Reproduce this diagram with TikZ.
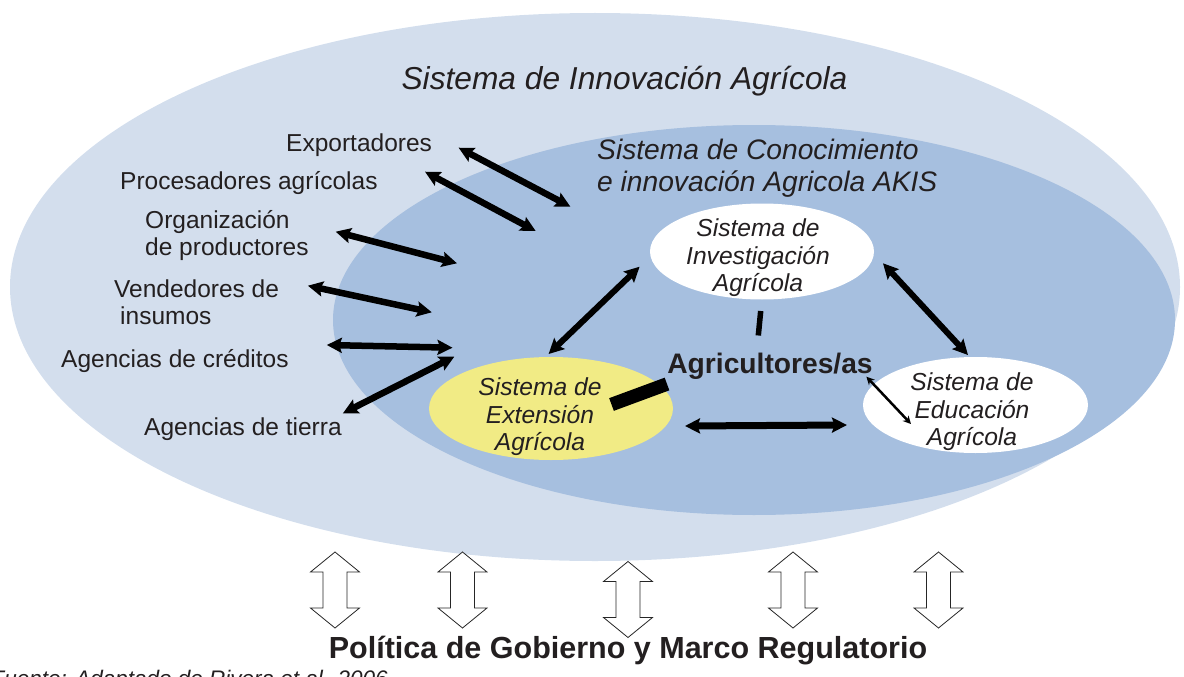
\documentclass[tikz,border=0pt]{standalone}
\usepackage{fontspec}
\setmainfont{Liberation Sans}
\usetikzlibrary{arrows.meta,shapes.geometric}
\definecolor{outerblue}{HTML}{D3DEED}
\definecolor{innerblue}{HTML}{A6BFDF}
\definecolor{extyellow}{HTML}{F1EB85}
\definecolor{txt}{HTML}{231F20}
\tikzset{
  hollowarr/.pic={
    \draw[line width=0.8pt, draw=black!85, fill=white]
      (0,-38) -- (24.5,-18) -- (12,-18) -- (12,18) -- (24.5,18) -- (0,38)
      -- (-24.5,18) -- (-12,18) -- (-12,-18) -- (-24.5,-18) -- cycle;
  }
}
\begin{document}
\begin{tikzpicture}[x=1pt,y=-1pt,
  >={Stealth[length=15pt,width=15pt,inset=2.5pt]},
  blob/.style={ellipse, inner sep=0pt, draw=none},
  lbl/.style={font=\fontsize{24.5}{27}\selectfont, text=txt, inner sep=0pt, anchor=base west},
  akisl/.style={font=\fontsize{28.2}{31}\selectfont\itshape, text=txt, inner sep=0pt, anchor=base west},
  subsys/.style={font=\fontsize{24.6}{27.5}\selectfont\itshape, text=txt, inner sep=0pt, align=center},
  fan/.style={<->, line width=6.5pt, black},
  tri/.style={<->, line width=6pt, black},
  thinarr/.style={{Stealth[length=8pt,width=8pt]}-{Stealth[length=8pt,width=8pt]}, line width=2.5pt, black}
]
\useasboundingbox (0,0) rectangle (1184,677);

% background ellipses
\node[blob, fill=outerblue, minimum width=1170pt, minimum height=548pt] (sia) at (595,287) {};
\node[blob, fill=innerblue, minimum width=842pt, minimum height=390pt] (akis) at (754,320) {};

% subsystem ellipses
\node[blob, fill=white, minimum width=224pt, minimum height=96pt] (inv) at (762,251.5) {};
\node[blob, fill=extyellow, minimum width=244pt, minimum height=103pt] (ext) at (551,408.5) {};
\node[blob, fill=white, minimum width=225pt, minimum height=96pt] (edu) at (975.5,405) {};

% titles
\node[font=\fontsize{31.7}{35}\selectfont\itshape, text=txt, inner sep=0pt, anchor=base] (siat) at (624.5,90) {Sistema de Innovación Agrícola};
\node[akisl] (akis1) at (597,159.5) {Sistema de Conocimiento};
\node[akisl] (akis2) at (597,191) {e innovación Agricola AKIS};

% subsystem texts
\node[subsys] (invt) at (758,258) {Sistema de\\Investigación\\Agrícola};
\node[subsys] (extt) at (540,417) {Sistema de\\Extensión\\Agrícola};
\node[subsys] (edut) at (972,412) {Sistema de\\Educación\\Agrícola};
\node[font=\fontsize{28.2}{32}\selectfont\bfseries, text=txt, inner sep=0pt, anchor=base] (agri) at (770,373.5) {Agricultores/as};

% left labels
\node[lbl] (expo) at (286,151) {Exportadores};
\node[lbl] (proc) at (120,189) {Procesadores agrícolas};
\node[lbl] (orga) at (145,228.5) {Organización};
\node[lbl] (orgb) at (145,255.5) {de productores};
\node[lbl] (vena) at (114,297) {Vendedores de};
\node[lbl] (venb) at (120,324.5) {insumos};
\node[lbl] (cred) at (61,367.5) {Agencias de créditos};
\node[lbl] (tier) at (144,435) {Agencias de tierra};

% fan arrow end points
\coordinate (expoA) at (458.6,147.7);  \coordinate (expoB) at (570.4,206.7);
\coordinate (procA) at (425,171.7);    \coordinate (procB) at (535.7,231);
\coordinate (orgA) at (335.7,231.7);   \coordinate (orgB) at (457,263.3);
\coordinate (venA) at (307.9,285.7);   \coordinate (venB) at (431.8,312.3);
\coordinate (credA) at (326.8,345);    \coordinate (credB) at (452.5,347.7);
\coordinate (tierA) at (342.9,413.3);  \coordinate (tierB) at (454.3,356.7);

\draw[fan] (expoA) -- (expoB);
\draw[fan] (procA) -- (procB);
\draw[fan] (orgA) -- (orgB);
\draw[fan] (venA) -- (venB);
\draw[fan] (credA) -- (credB);
\draw[fan] (tierA) -- (tierB);

% triangle connectors
\coordinate (extN) at (548.6,354);   \coordinate (invSW) at (639.6,266.7);
\coordinate (invSE) at (883,263.3);  \coordinate (eduN) at (968,355);
\coordinate (extE) at (685,426);     \coordinate (eduW) at (847,425);
\coordinate (invS) at (760.7,311);   \coordinate (agriN) at (758.3,335.5);
\coordinate (agriW) at (667,384);    \coordinate (extC) at (611.5,404.5);
\coordinate (agriE) at (866.4,376.7); \coordinate (eduC) at (911,424);

\draw[tri] (extN) -- (invSW);
\draw[tri] (invSE) -- (eduN);
\draw[tri, line width=7pt] (extE) -- (eduW);
\draw[line width=5.5pt, black] (invS) -- (agriN);
\draw[line width=13.5pt, black] (agriW) -- (extC);
\draw[thinarr] (agriE) -- (eduC);

% policy arrows
\pic (p1) at (335,590) {hollowarr};
\pic (p2) at (462.5,590) {hollowarr};
\pic (p3) at (628,599.5) {hollowarr};
\pic (p4) at (793,590) {hollowarr};
\pic (p5) at (938.5,590) {hollowarr};

\node[font=\fontsize{30.5}{34}\selectfont\bfseries, text=txt, inner sep=0pt, anchor=base] (pol) at (628,658) {Política de Gobierno y Marco Regulatorio};
\node[font=\fontsize{22.5}{26}\selectfont\itshape, text=txt, inner sep=0pt, anchor=base west] (src) at (-9.5,686) {Fuente: Adaptado de Rivera et al. 2006};
\end{tikzpicture}
\end{document}
